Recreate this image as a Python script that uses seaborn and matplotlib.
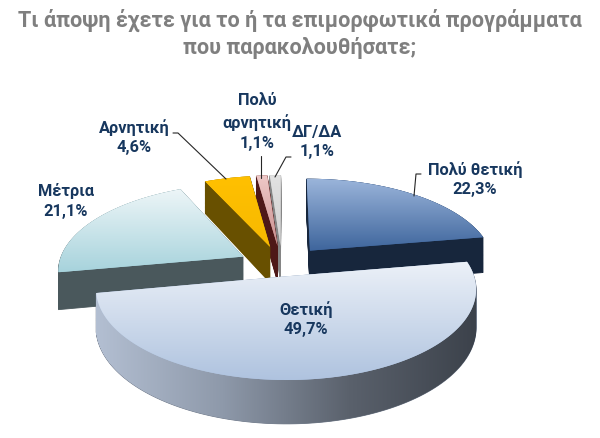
import numpy as np
import matplotlib
matplotlib.use("Agg")
import matplotlib.pyplot as plt
import seaborn as sns
from matplotlib.transforms import Transform
from matplotlib.path import Path
from matplotlib.patches import PathPatch
from matplotlib.colors import LinearSegmentedColormap

# ---------------- data ----------------
categories = ['Πολύ θετική', 'Θετική', 'Μέτρια', 'Αρνητική', 'Πολύ αρνητική', 'ΔΓ/ΔΑ']
display_labels = ['Πολύ θετική', 'Θετική', 'Μέτρια', 'Αρνητική', 'Πολύ\nαρνητική', 'ΔΓ/ΔΑ']
values = [22.3, 49.7, 21.1, 4.6, 1.1, 1.1]
title = 'Τι άποψη έχετε για το ή τα επιμορφωτικά προγράμματα\nπου παρακολουθήσατε;'

# ---------------- style ----------------
sns.set_theme(style='white')
plt.rcParams['font.family'] = ['Roboto', 'DejaVu Sans']

top_light = ['#9AB4DA', '#ECF1F8', '#EEF6F8', '#FFC000', '#EFC9C8', '#E2E2E2']
top_dark = ['#3E659C', '#AFC3DF', '#A7D3DC', '#F7B900', '#C98F8E', '#CFCFCF']
side_cols = ['#17263C', '#6E7888', '#4A585C', '#685000', '#4E1818', '#858585']
explode = [0.24, 0.12, 0.24, 0.24, 0.24, 0.24]

# perspective projection parameters (pixel space)
CX, CY, RX, RY, K, T = 282.0, 266.0, 185.0, 86.0, 0.14, 37.0


class Persp(Transform):
    input_dims = 2
    output_dims = 2
    is_separable = False
    has_inverse = False

    def __init__(self, dz):
        super().__init__()
        self.dz = dz

    def transform_non_affine(self, values):
        xy = np.asarray(values, float).reshape(-1, 2)
        u, v = xy[:, 0], xy[:, 1]
        w = 1.0 + K * v
        return np.column_stack([CX + RX * u / w, CY - (RY * v - self.dz) / w])

    def transform_path_non_affine(self, path):
        pts = []
        codes = []
        tt = np.linspace(0, 1, 30)
        for seg, code in path.iter_bezier():
            if code == Path.MOVETO:
                p = seg.control_points.reshape(-1, 2)[-1:]
                pts.append(p)
                codes += [Path.MOVETO]
            else:
                p = seg(tt)[1:]
                pts.append(p)
                codes += [Path.LINETO] * len(p)
        verts = self.transform_non_affine(np.vstack(pts))
        return Path(verts, codes)


fig = plt.figure(figsize=(6.0, 4.38), dpi=100)
ax = fig.add_axes([0, 0, 1, 1])

# depth layers (sides)
depths = np.linspace(T, 0.5, 40)
side_wedges = {i: [] for i in range(len(values))}
for d in depths:
    wedges, _ = ax.pie(values, explode=explode, startangle=90, counterclock=False,
                       colors=side_cols, wedgeprops=dict(linewidth=0.6))
    tr = Persp(d) + ax.transData
    for i, w in enumerate(wedges):
        w.set_transform(tr)
        w.set_edgecolor(side_cols[i])
        w.set_zorder(1)
        side_wedges[i].append(w)

# gradient on the front side of the largest slice
persp0 = Persp(0.0)
comp = Path.make_compound_path(*[Persp(d).transform_path_non_affine(w.get_path())
                                 for d, w in zip(depths, side_wedges[1])])
clip_side = PathPatch(comp, transform=ax.transData, facecolor='none', edgecolor='none')
ax.add_patch(clip_side)
clip_side.set_visible(False)
bx = comp.vertices
side_cmap = LinearSegmentedColormap.from_list('side', ['#B3BFD2', '#8E99AA', '#5A616C', '#3C424B'])
im = ax.imshow(np.linspace(0, 1, 256).reshape(1, -1), cmap=side_cmap, aspect='auto',
               extent=(bx[:, 0].min(), bx[:, 0].max(), bx[:, 1].max(), bx[:, 1].min()),
               zorder=1.5, interpolation='bilinear')
im.set_clip_path(clip_side)

# top surfaces
tops, _ = ax.pie(values, explode=explode, startangle=90, counterclock=False,
                 colors=top_dark, wedgeprops=dict(linewidth=0))
for i, w in enumerate(tops):
    w.set_transform(persp0 + ax.transData)
    w.set_zorder(2)
    pv = persp0.transform_path_non_affine(w.get_path()).vertices
    cmap = LinearSegmentedColormap.from_list(f'top{i}', [top_light[i], top_dark[i]])
    img = ax.imshow(np.linspace(0, 1, 256).reshape(-1, 1), cmap=cmap, aspect='auto',
                    extent=(pv[:, 0].min(), pv[:, 0].max(), pv[:, 1].max(), pv[:, 1].min()),
                    zorder=2.5, interpolation='bilinear')
    img.set_clip_path(w)

ax.set_xlim(0, 600)
ax.set_ylim(438, 0)
ax.set_aspect('auto')
ax.axis('off')

# labels
label_pos = [(475, 179), (306, 319), (66, 201), (134, 137), (257, 122), (317, 142)]
for lab, val, (x, y) in zip(display_labels, values, label_pos):
    txt = f'{lab}\n{val:.1f}%'.replace('.', ',')
    ax.text(x, y, txt, ha='center', va='center', fontsize=11.8, fontweight='bold',
            color='#17375E', linespacing=1.4, zorder=5)

leaders = [
    [(421, 174), (416, 174), (414, 196)],
    [(173, 133), (178, 133), (226, 179)],
    [(261, 156), (261, 178)],
    [(291, 157), (286, 157), (275, 177)],
]
for pts in leaders:
    xs, ys = zip(*pts)
    ax.plot(xs, ys, color='#262626', lw=0.8, zorder=4)

fig.text(0.5, 1 - 34 / 438, title, ha='center', va='center', fontsize=15.6,
         fontweight='bold', color='#7F7F7F', linespacing=1.3)

fig.savefig('out.png', dpi=100)
